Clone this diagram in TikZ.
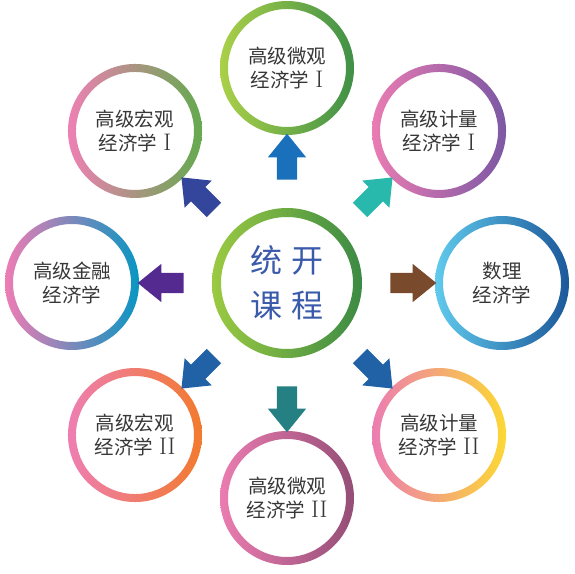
\documentclass[tikz,border=0pt]{standalone}
\usepackage{fontspec}
\newfontfamily\cjk{Noto Sans CJK SC}
\usetikzlibrary{shapes.arrows}

\newcommand\romI{{\rmfamily\fontsize{24}{24}\selectfont I}}
\newcommand\romII{{\rmfamily\fontsize{24}{24}\selectfont II}}

\begin{document}
\begin{tikzpicture}[x=1pt, y=1pt,
    core text/.style={align=center, text=core_blue, font=\cjk\fontsize{32}{45}\selectfont},
    course text/.style={align=center, text=text_gray, font=\cjk\fontsize{19.5}{24}\selectfont},
    block arrow/.style={single arrow, inner xsep=0pt, inner ysep=10pt, minimum height=46,
        single arrow head extend=9, single arrow tip angle=78}]

    % Define colors
    \definecolor{core_blue}{RGB}{58, 90, 170}
    \definecolor{text_gray}{RGB}{55, 55, 55}
    \definecolor{core_l}{RGB}{155, 202, 66}
    \definecolor{core_r}{RGB}{60, 138, 68}
    \definecolor{micro1_l}{RGB}{170, 208, 72}
    \definecolor{micro1_r}{RGB}{64, 144, 72}
    \definecolor{macro1_l}{RGB}{238, 128, 180}
    \definecolor{macro1_r}{RGB}{100, 170, 78}
    \definecolor{metric1_l}{RGB}{234, 124, 178}
    \definecolor{metric1_r}{RGB}{124, 88, 164}
    \definecolor{finance_l}{RGB}{238, 124, 180}
    \definecolor{finance_r}{RGB}{8, 150, 194}
    \definecolor{math_l}{RGB}{96, 202, 236}
    \definecolor{math_r}{RGB}{28, 88, 154}
    \definecolor{macro2_l}{RGB}{238, 126, 178}
    \definecolor{macro2_r}{RGB}{242, 122, 46}
    \definecolor{micro2_l}{RGB}{234, 124, 176}
    \definecolor{micro2_r}{RGB}{148, 78, 118}
    \definecolor{metric2_l}{RGB}{236, 124, 178}
    \definecolor{metric2_r}{RGB}{252, 216, 52}

    \useasboundingbox (0,0) rectangle (575,573);

    % Center
    \node[core text] (core) at (287, 290) {统\hspace{10pt}开\\课\hspace{10pt}程};
    \shade[left color=core_l, right color=core_r, even odd rule] (core.center) circle (75) circle (66);

    % Courses
    \node[course text] (micro1) at ([shift={(90:215)}]core) {高级微观\\经济学\hspace{6pt}\romI};
    \node[course text] (macro1) at ([shift={(135:215)}]core) {高级宏观\\经济学\hspace{6pt}\romI};
    \node[course text] (metric1) at ([shift={(45:215)}]core) {高级计量\\经济学\hspace{6pt}\romI};
    \node[course text] (finance) at ([shift={(180:215)}]core) {高级金融\\经济学};
    \node[course text] (math) at ([shift={(0:215)}]core) {数理\\经济学};
    \node[course text] (macro2) at ([shift={(225:215)}]core) {高级宏观\\经济学\hspace{6pt}\romII};
    \node[course text] (micro2) at ([shift={(270:215)}]core) {高级微观\\经济学\hspace{6pt}\romII};
    \node[course text] (metric2) at ([shift={(315:215)}]core) {高级计量\\经济学\hspace{6pt}\romII};

    % Rings
    \shade[left color=micro1_l, right color=micro1_r, even odd rule] (micro1.center) circle (67) circle (59);
    \shade[left color=macro1_l, right color=macro1_r, even odd rule] (macro1.center) circle (67) circle (59);
    \shade[left color=metric1_l, right color=metric1_r, even odd rule] (metric1.center) circle (67) circle (59);
    \shade[left color=finance_l, right color=finance_r, even odd rule] (finance.center) circle (67) circle (59);
    \shade[left color=math_l, right color=math_r, even odd rule] (math.center) circle (67) circle (59);
    \shade[left color=macro2_l, right color=macro2_r, even odd rule] (macro2.center) circle (67) circle (59);
    \shade[left color=micro2_l, right color=micro2_r, even odd rule] (micro2.center) circle (67) circle (59);
    \shade[left color=metric2_l, right color=metric2_r, even odd rule] (metric2.center) circle (67) circle (59);

    % Arrows
    \node[block arrow, fill={rgb,255:red,26;green,112;blue,186}, rotate=90] (a_micro1) at ([shift={(90:120)}]core) {};
    \node[block arrow, fill={rgb,255:red,52;green,70;blue,155}, rotate=135] (a_macro1) at ([shift={(135:120)}]core) {};
    \node[block arrow, fill={rgb,255:red,40;green,184;blue,172}, rotate=45] (a_metric1) at ([shift={(45:120)}]core) {};
    \node[block arrow, fill={rgb,255:red,84;green,42;blue,145}, rotate=180] (a_finance) at ([shift={(180:120)}]core) {};
    \node[block arrow, fill={rgb,255:red,122;green,74;blue,45}] (a_math) at ([shift={(0:120)}]core) {};
    \node[block arrow, fill={rgb,255:red,33;green,98;blue,166}, rotate=225] (a_macro2) at ([shift={(225:120)}]core) {};
    \node[block arrow, fill={rgb,255:red,36;green,128;blue,130}, rotate=270] (a_micro2) at ([shift={(270:120)}]core) {};
    \node[block arrow, fill={rgb,255:red,33;green,98;blue,166}, rotate=315] (a_metric2) at ([shift={(315:120)}]core) {};

\end{tikzpicture}
\end{document}
